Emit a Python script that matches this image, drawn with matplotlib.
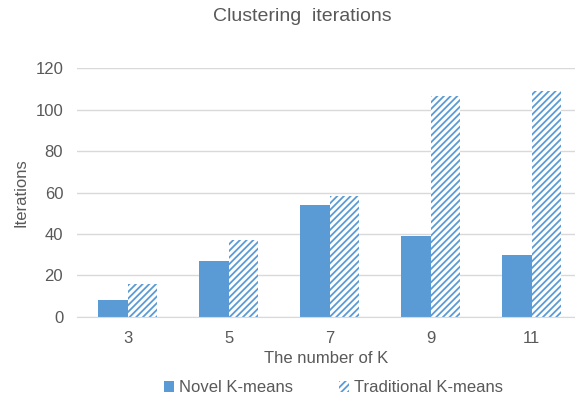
import numpy as np
import matplotlib.pyplot as plt

plt.rcParams['font.family'] = ['Liberation Sans', 'DejaVu Sans']
plt.rcParams['hatch.linewidth'] = 1.3

# data
k_labels = ['3', '5', '7', '9', '11']
novel = [8, 27, 54, 39, 30]
traditional = [16, 37, 58.5, 106.5, 109]

blue = '#5b9bd5'
text_col = '#595959'
grid_col = '#d9d9d9'

fig = plt.figure(figsize=(5.75, 3.99), dpi=100)
ax = fig.add_axes([0.134, 0.206, 0.866, 0.623])

x = np.arange(len(k_labels))
w = 0.29
ax.bar(x - w / 2, novel, w, color=blue, label='Novel K-means')
ax.bar(x + w / 2, traditional, w, color='white', edgecolor=blue, linewidth=0,
       hatch='/////', label='Traditional K-means')

ax.set_xlim(-0.5, 4.43)
ax.set_ylim(0, 120)
ax.set_yticks(range(0, 121, 20))
ax.set_xticks(x)
ax.set_xticklabels(k_labels)
ax.yaxis.grid(True, color=grid_col, linewidth=1)
ax.set_axisbelow(True)
for s in ['top', 'right', 'left']:
    ax.spines[s].set_visible(False)
ax.spines['bottom'].set_color(grid_col)
ax.tick_params(length=0, labelsize=12, colors=text_col, pad=10)

ax.set_xlabel('The number of K', fontsize=12, color=text_col, labelpad=4)
ax.set_ylabel('Iterations', fontsize=12, color=text_col, labelpad=5)
fig.text(0.525, 0.958, 'Clustering  iterations', fontsize=14, color=text_col,
         ha='center', va='center')

fig.legend(loc='center', bbox_to_anchor=(0.58, 0.028), ncol=2, frameon=False,
           fontsize=12, labelcolor=text_col, handlelength=0.6, handleheight=0.6,
           handletextpad=0.3, columnspacing=2.8)

fig.savefig('out.png', dpi=100)
